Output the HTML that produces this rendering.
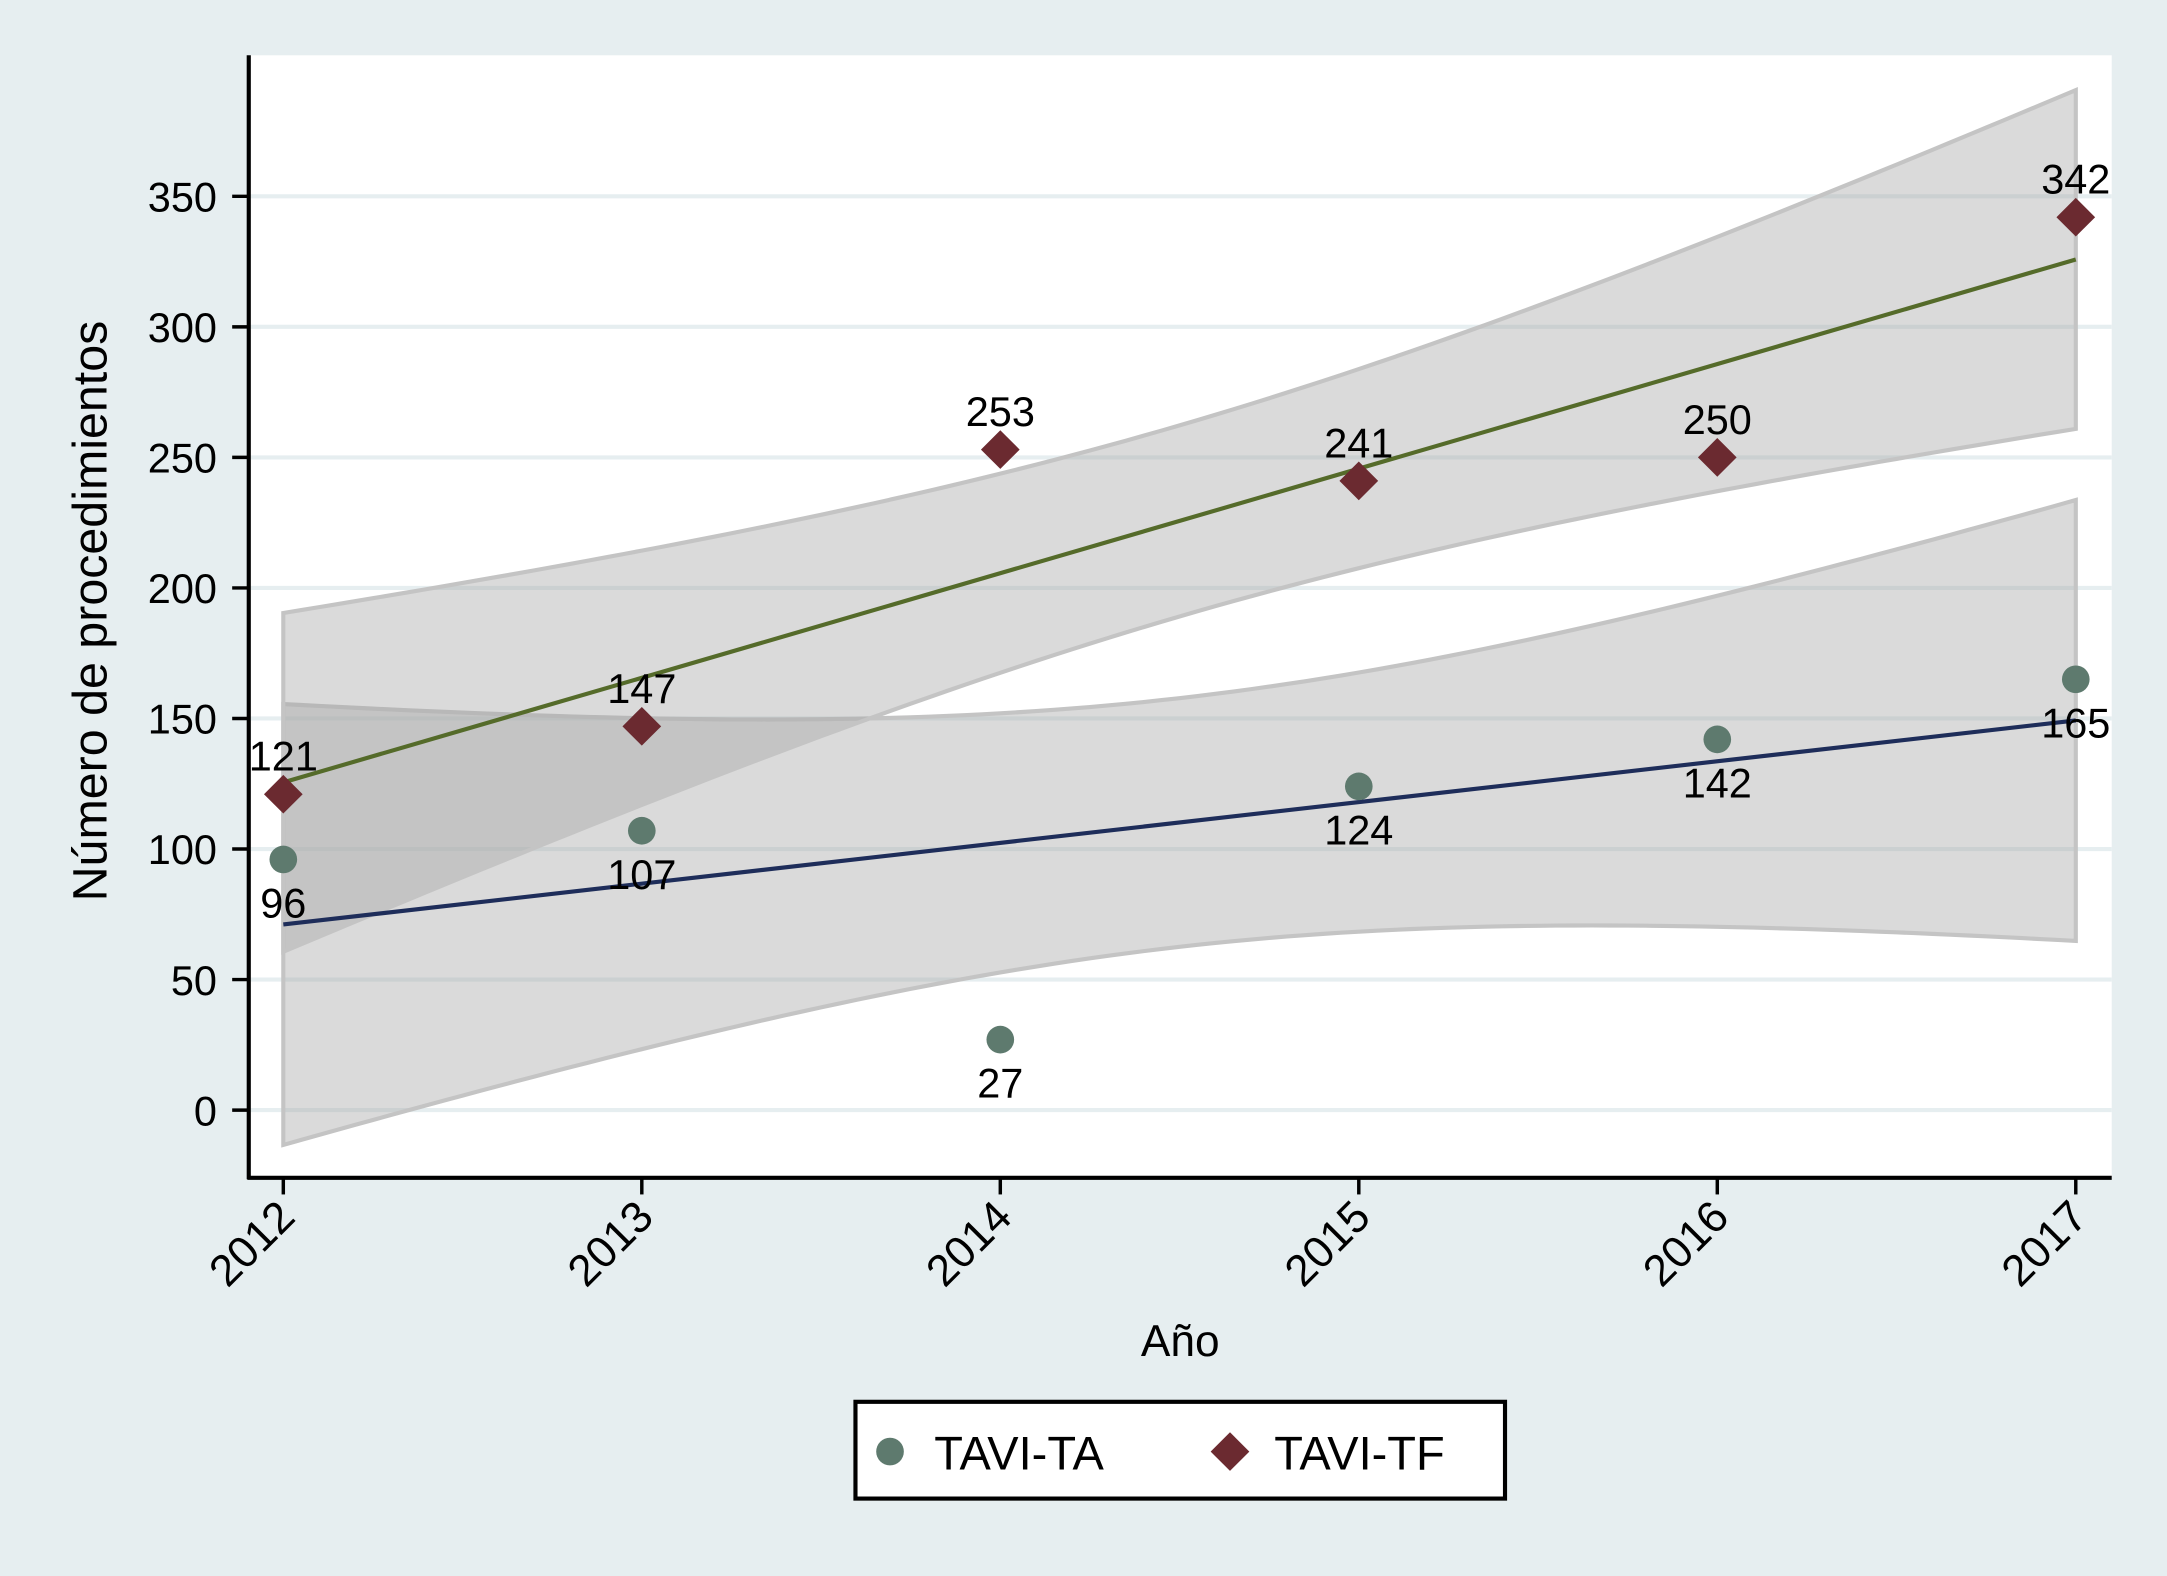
<!DOCTYPE html>
<html><head><meta charset="utf-8"><style>
html,body{margin:0;padding:0;background:#e6eef0;}
svg{display:block;font-family:"Liberation Sans",Arial,sans-serif;}
</style></head><body>
<svg id="chart" width="2167" height="1576" viewBox="0 0 1568 1140" preserveAspectRatio="none" xmlns="http://www.w3.org/2000/svg">
<rect x="0" y="0" width="1568" height="1140" fill="#e6eef0"/>
<rect x="180" y="40" width="1348" height="812" fill="#ffffff"/>
<g id="grid"></g>
<g id="bands"></g>
<g id="lines"></g>
<g id="marks"></g>
<g id="axes"></g>
<text transform="translate(77,442) rotate(-90)" text-anchor="middle" font-size="35" fill="#000">Número de procedimientos</text>
<text x="854" y="981" text-anchor="middle" font-size="32" fill="#000">Año</text>
<g>
<rect x="619" y="1014" width="470" height="70" fill="#fff" stroke="#000" stroke-width="3"/>
<g>
<circle cx="644" cy="1050" r="10" fill="#5e7a6e"/>
<text x="676" y="1063" font-size="34" fill="#000">TAVI-TA</text>
</g>
<g>
<polygon points="890,1036 904,1050 890,1064 876,1050" fill="#6b2a30"/>
<text x="922" y="1063" font-size="34" fill="#000">TAVI-TF</text>
</g>
</g>
</svg>
<script>
const years = [2012, 2013, 2014, 2015, 2016, 2017];
const taValues = [96, 107, 27, 124, 142, 165];
const tfValues = [121, 147, 253, 241, 250, 342];
const yTicks = [0, 50, 100, 150, 200, 250, 300, 350];

const NS = "http://www.w3.org/2000/svg";
function xs(v){ return 205 + (v - 2012) * 259.4; }
function ys(v){ return 803 - v * (661 / 350); }
function mk(tag, attrs, parent){
  const e = document.createElementNS(NS, tag);
  for (const k in attrs) e.setAttribute(k, attrs[k]);
  parent.appendChild(e); return e;
}
const grid = document.getElementById('grid');
const axes = document.getElementById('axes');
yTicks.forEach(t => {
  const g = mk('line', {x1:180, x2:1528, y1:ys(t), y2:ys(t), stroke:'#e6eef0', 'stroke-width':3}, grid);
  
  
  const tk = mk('line', {x1:168, x2:180, y1:ys(t), y2:ys(t), stroke:'#000', 'stroke-width':2.5}, axes);
  
  
  const lb = mk('text', {x:157, y:ys(t)+11, 'text-anchor':'end', 'font-size':30, fill:'#000'}, axes);
  lb.textContent = t;
  
  
});
years.forEach(yr => {
  const tk = mk('line', {x1:xs(yr), x2:xs(yr), y1:852, y2:864, stroke:'#000', 'stroke-width':2.5}, axes);
  
  
  const lb = mk('text', {transform:`translate(${xs(yr)+10},${882}) rotate(-45)`, 'text-anchor':'end', 'font-size':32, fill:'#000'}, axes);
  lb.textContent = yr;
  
  
});
const ya = mk('line', {x1:180, x2:180, y1:40, y2:853, stroke:'#000', 'stroke-width':3}, axes);


const xa = mk('line', {x1:179, x2:1528, y1:852, y2:852, stroke:'#000', 'stroke-width':3}, axes);



function fit(vals){
  const n = years.length;
  const mx = years.reduce((a,b)=>a+b,0)/n, my = vals.reduce((a,b)=>a+b,0)/n;
  let sxx=0, sxy=0;
  years.forEach((x,i)=>{ sxx += (x-mx)**2; sxy += (x-mx)*(vals[i]-my); });
  const b = sxy/sxx, a = my - b*mx;
  let sse = 0; years.forEach((x,i)=>{ sse += (vals[i]-a-b*x)**2; });
  const s = Math.sqrt(sse/(n-2)), t = 2.776;
  return {a, b, hw: x => t*s*Math.sqrt(1/n + (x-mx)**2/sxx)};
}
const bands = document.getElementById('bands');
const lines = document.getElementById('lines');
function drawFit(vals, name, color){
  const f = fit(vals);
  const up = [], lo = [];
  for (let x = 2012; x <= 2017.0001; x += 0.05){
    const m = f.a + f.b*x, h = f.hw(x);
    up.push(xs(x)+','+ys(m+h)); lo.push(xs(x)+','+ys(m-h));
  }
  const p = mk('polygon', {points: up.concat(lo.reverse()).join(' '), fill:'#a8a8a8', 'fill-opacity':0.42, stroke:'#c4c4c4', 'stroke-width':3}, bands);
  
  
  const l = mk('line', {x1:xs(2012), y1:ys(f.a+f.b*2012), x2:xs(2017), y2:ys(f.a+f.b*2017), stroke:color, 'stroke-width':3}, lines);
  
  
}
drawFit(taValues, 'tavi-ta', '#1e2d5a');
drawFit(tfValues, 'tavi-tf', '#556b2a');

const marks = document.getElementById('marks');
years.forEach((yr,i) => {
  const c = mk('circle', {cx:xs(yr), cy:ys(taValues[i]), r:10, fill:'#5e7a6e'}, marks);
  
  
  const t = mk('text', {x:xs(yr), y:ys(taValues[i])+42, 'text-anchor':'middle', 'font-size':30, fill:'#000'}, marks);
  t.textContent = taValues[i];
  
  
});
years.forEach((yr,i) => {
  const x = xs(yr), y = ys(tfValues[i]);
  const d = mk('polygon', {points:`${x},${y-14} ${x+14},${y} ${x},${y+14} ${x-14},${y}`, fill:'#6b2a30'}, marks);
  
  
  const t = mk('text', {x:x, y:y-17, 'text-anchor':'middle', 'font-size':30, fill:'#000'}, marks);
  t.textContent = tfValues[i];
  
  
});
</script>
</body></html>
